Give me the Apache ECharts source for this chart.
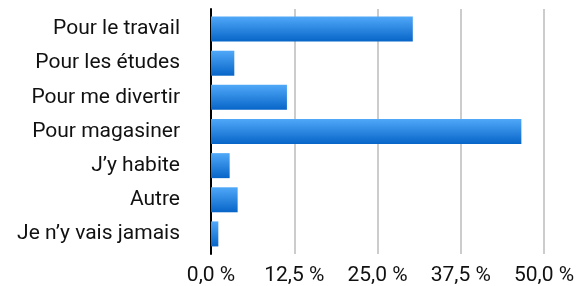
<!DOCTYPE html>
<html><head><meta charset="utf-8">
<script src="https://cdn.jsdelivr.net/npm/echarts@6/dist/echarts.min.js"></script>
<style>html,body{margin:0;padding:0;background:#fff}#c{width:578px;height:286px}</style>
</head><body><div id="c"></div>
<script>
const categories = ["Pour le travail","Pour les études","Pour me divertir","Pour magasiner","J’y habite","Autre","Je n’y vais jamais"];
const values = [30.3, 3.5, 11.4, 46.6, 2.8, 4.0, 1.1];
const tickValues = [0, 12.5, 25, 37.5, 50];
const fmt = v => v.toFixed(1).replace('.', ',') + ' %';
const chart = echarts.init(document.getElementById('c'), null, {renderer:'canvas'});
const font = 'Roboto';
chart.setOption({
  animation:false,
  grid:[
    {left:211, right:34, top:12, bottom:35},
    {left:211, right:34, top:9, bottom:30}
  ],
  xAxis:[
    {gridIndex:0, type:'value', min:0, max:50, interval:12.5,
     axisLine:{show:false}, axisTick:{show:false}, splitLine:{show:false},
     axisLabel:{show:false}},
    {gridIndex:1, type:'value', min:0, max:50, interval:12.5,
     axisLine:{show:false}, axisTick:{show:false},
     splitLine:{show:true, lineStyle:{color:'#cccccc', width:2}},
     axisLabel:{show:true, margin:11, color:'#111', fontFamily:font, fontSize:21, formatter:fmt}}
  ],
  yAxis:[
    {gridIndex:0, type:'category', data:categories, inverse:true,
     axisLine:{show:false}, axisTick:{show:false},
     axisLabel:{margin:31, color:'#111', fontFamily:font, fontSize:21}},
    {gridIndex:1, type:'category', data:categories, inverse:true,
     axisLine:{show:true, lineStyle:{color:'#000', width:2}}, axisTick:{show:false},
     axisLabel:{show:false}, splitLine:{show:false}}
  ],
  series:[{
    type:'bar', xAxisIndex:0, yAxisIndex:0, data:values,
    barWidth:25,
    itemStyle:{color:new echarts.graphic.LinearGradient(0,0,0,1,[
      {offset:0,color:'#50a8f8'},{offset:1,color:'#0765c8'}])}
  }]
});
</script></body></html>
